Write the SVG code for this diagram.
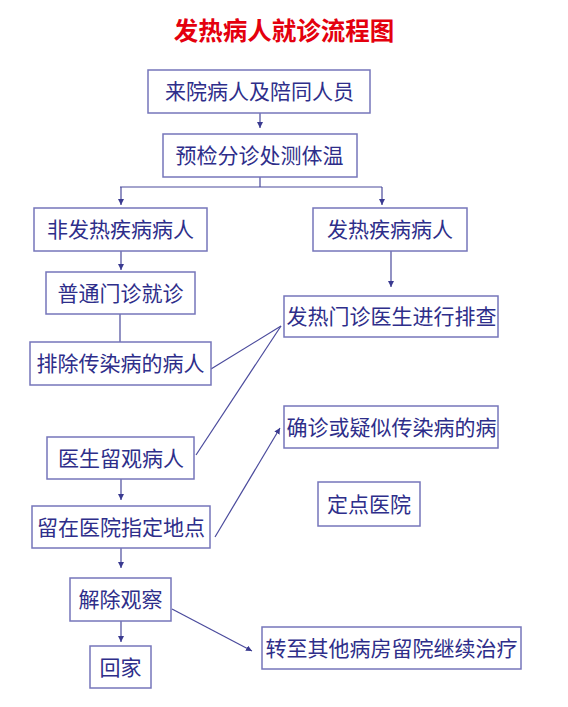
<svg xmlns="http://www.w3.org/2000/svg" width="568" height="707" viewBox="0 0 568 707">
<style>
.box rect{fill:#fff;stroke:#7676ba;stroke-width:1.5}
.box text{font-family:"Noto Sans CJK SC","Noto Sans",sans-serif;font-size:21px;fill:#2e2e8a;text-anchor:middle}
.title{font-family:"Noto Sans CJK SC",serif;font-size:24.5px;font-weight:700;fill:#e4000e;text-anchor:middle}
.c path{fill:none;stroke:#4a4a9c;stroke-width:1.2}
</style>
<defs>
<marker id="a" viewBox="0 0 8 8" refX="8" refY="4" markerWidth="6" markerHeight="6" markerUnits="userSpaceOnUse" orient="auto">
<path d="M0,0 L8,4 L0,8 z" fill="#3a3a90"/>
</marker>
</defs>
<rect width="568" height="707" fill="#fff"/>
<text class="title" x="284" y="40">发热病人就诊流程图</text>
<g class="c">
<path d="M260,113 V128" marker-end="url(#a)"/>
<path d="M260,177 V187 M120,187 H382"/>
<path d="M121,187 V205" marker-end="url(#a)"/>
<path d="M382,187 V205" marker-end="url(#a)"/>
<path d="M121,251 V270" marker-end="url(#a)"/>
<path d="M391,251 V287" marker-end="url(#a)"/>
<path d="M120,314 V342"/>
<path d="M281,326 L211,369"/>
<path d="M281,326 L196,455"/>
<path d="M121,479 V500" marker-end="url(#a)"/>
<path d="M215,537 L280,428" marker-end="url(#a)"/>
<path d="M121,548 V568" marker-end="url(#a)"/>
<path d="M121,621 V642" marker-end="url(#a)"/>
<path d="M172,609 L252,651" marker-end="url(#a)"/>
</g>
<g id="n1" class="box"><rect x="148" y="70" width="222" height="43"/><text x="259.5" y="99">来院病人及陪同人员</text></g>
<g id="n2" class="box"><rect x="163" y="134" width="194" height="43"/><text x="259.5" y="163">预检分诊处测体温</text></g>
<g id="n3" class="box"><rect x="34" y="208" width="173" height="43"/><text x="120.5" y="237">非发热疾病病人</text></g>
<g id="n4" class="box"><rect x="313" y="208" width="154" height="43"/><text x="390" y="237">发热疾病病人</text></g>
<g id="n5" class="box"><rect x="46" y="272" width="149" height="42"/><text x="120.5" y="300.5">普通门诊就诊</text></g>
<g id="n6" class="box"><rect x="30" y="342" width="181" height="43"/><text x="120.5" y="371">排除传染病的病人</text></g>
<g id="n7" class="box"><rect x="284" y="296" width="214" height="41"/><text x="391.5" y="324">发热门诊医生进行排查</text></g>
<g id="n8" class="box"><rect x="47" y="437" width="147" height="42"/><text x="121" y="465.5">医生留观病人</text></g>
<g id="n9" class="box"><rect x="32" y="506" width="178" height="42"/><text x="121" y="534.5">留在医院指定地点</text></g>
<g id="n10" class="box"><rect x="284" y="406" width="214" height="42"/><text x="391.5" y="434.5">确诊或疑似传染病的病</text></g>
<g id="n11" class="box"><rect x="318" y="482" width="102" height="44"/><text x="369" y="511.5">定点医院</text></g>
<g id="n12" class="box"><rect x="70" y="578" width="101" height="43"/><text x="120.5" y="607">解除观察</text></g>
<g id="n13" class="box"><rect x="90" y="646" width="61" height="42"/><text x="120.5" y="674.5">回家</text></g>
<g id="n14" class="box"><rect x="262" y="627" width="259" height="42"/><text x="391.5" y="655.5">转至其他病房留院继续治疗</text></g>
</svg>
